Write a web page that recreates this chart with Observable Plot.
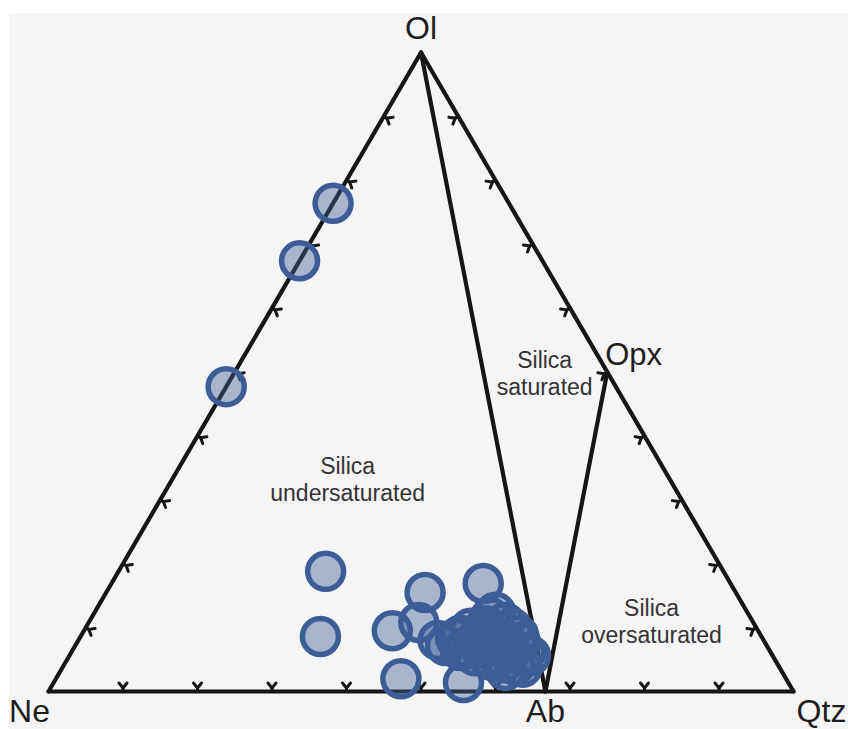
<!DOCTYPE html>
<html>
<head>
<meta charset="utf-8">
<script src="https://cdn.jsdelivr.net/npm/d3@7"></script>
<script src="https://cdn.jsdelivr.net/npm/@observablehq/plot@0.6"></script>
<style>
  html, body { margin: 0; padding: 0; background: #ffffff; }
  #wrap { position: relative; width: 848px; height: 729px; overflow: hidden; }
  #paper { position: absolute; left: 9px; top: 13px; right: 0; bottom: 0; background: #f6f5f6; }
  #chart { position: absolute; left: 0; top: 0; }
  #chart svg { overflow: visible; }
</style>
</head>
<body>
<div id="wrap"><div id="paper"></div><div id="chart"></div></div>
<script>
// Apices of the Ne–Ol–Qtz projection, as (Ne, Ol, Qtz) percentages
const apexNames = ["Ne", "Ol", "Qtz"];
const apexNe  = [100, 0, 0];
const apexOl  = [0, 100, 0];
const apexQtz = [0, 0, 100];

// Phases lying on the edges of the triangle
const phaseNames = ["Ab", "Opx"];
const phaseNe  = [33.3, 0];
const phaseOl  = [0, 50];
const phaseQtz = [66.7, 50];

// Sample compositions (Ne, Ol, Qtz %)
const sampleNe  = [23.6, 32.6, 52.3, 53.4, 59.2, 41.7, 33.2, 49.1, 44.9, 51.7, 43.6,
                   43.7, 41.2, 38.4, 34.9, 33.3, 32.5, 32.9, 35.3, 36.8, 38.6, 40.7, 36.0, 34.7, 36.7, 36.2,
                   43.1, 40.3, 38.7, 37.5, 35.3, 32.8, 32.8, 32.5, 34.5, 37.0, 38.2, 39.9, 33.8, 37.0, 34.9, 41.5];
const sampleOl  = [76.4, 67.4, 47.7, 18.8, 8.6, 15.5, 16.9, 9.5, 10.8, 2.0, 1.4,
                   8.0, 8.3, 9.9, 11.6, 10.8, 8.8, 6.1, 4.1, 5.6, 6.7, 6.7, 8.8, 7.2, 4.5, 10.3,
                   7.2, 8.8, 8.0, 7.2, 8.0, 9.9, 7.7, 5.6, 3.8, 3.3, 4.9, 5.6, 12.4, 9.5, 6.1, 6.4];
const sampleQtz = [0, 0, 0, 27.8, 32.2, 42.8, 49.9, 41.4, 44.3, 46.3, 55.0,
                   48.3, 50.5, 51.7, 53.5, 55.9, 58.7, 61.0, 60.6, 57.6, 54.7, 52.6, 55.2, 58.1, 58.8, 53.5,
                   49.7, 50.9, 53.3, 55.3, 56.7, 57.3, 59.5, 61.9, 61.7, 59.7, 56.9, 54.5, 53.8, 53.5, 59.0, 52.1];

// Field names
const fieldNames = ["Silica\nundersaturated", "Silica\nsaturated", "Silica\noversaturated"];
const fieldNe  = [43.2, 8.5, 13.5];
const fieldOl  = [33.3, 49.8, 11.1];
const fieldQtz = [23.5, 41.7, 75.4];

// Edge tick interval (fraction of each side)
const tickFractions = [0.1, 0.2, 0.3, 0.4, 0.5, 0.6, 0.7, 0.8, 0.9];

// ---- layout ----
const W = 848, H = 729;
const mL = 48, mR = 55, mT = 52, mB = 38;
const S3 = Math.sqrt(3) / 2;
const kx = (W - mL - mR) / 1;       // px per data unit, x
const ky = (H - mT - mB) / S3;      // px per data unit, y

// Ternary (Ne, Ol, Qtz) -> cartesian in a unit equilateral triangle
function tern(ne, ol, q) {
  const s = ne + ol + q;
  return { x: (q + ol / 2) / s, y: (ol / s) * S3 };
}

const apices = apexNames.map((n, i) => ({ name: n, ...tern(apexNe[i], apexOl[i], apexQtz[i]) }));
const phases = phaseNames.map((n, i) => ({ name: n, ...tern(phaseNe[i], phaseOl[i], phaseQtz[i]) }));
const samples = sampleNe.map((_, i) => tern(sampleNe[i], sampleOl[i], sampleQtz[i]));
const fields = fieldNames.map((n, i) => ({ name: n, ...tern(fieldNe[i], fieldOl[i], fieldQtz[i]) }));

const P = Object.fromEntries([...apices, ...phases].map(d => [d.name, d]));

// Straight tie lines of the diagram
const segments = [
  [P.Ne, P.Ol], [P.Ol, P.Qtz], [P.Qtz, P.Ne],
  [P.Ol, P.Ab], [P.Ab, P.Opx]
].map(([a, b]) => ({ x1: a.x, y1: a.y, x2: b.x, y2: b.y }));

// Small "Y" ticks pointing into the triangle, every 10 % along each side
const edges = [[P.Ne, P.Qtz], [P.Ne, P.Ol], [P.Ol, P.Qtz]];
const centroid = { x: 0.5, y: S3 / 3 };
const tickSegs = [];
for (const [a, b] of edges) {
  // work in pixel space so the glyph keeps its shape
  const tx = (b.x - a.x) * kx, ty = -(b.y - a.y) * ky;
  const tl = Math.hypot(tx, ty);
  const ux = tx / tl, uy = ty / tl;
  let nx = -uy, ny = ux;
  const mx = ((a.x + b.x) / 2 - centroid.x) * kx, my = -((a.y + b.y) / 2 - centroid.y) * ky;
  if (nx * mx + ny * my > 0) { nx = -nx; ny = -ny; }
  const off = (p, along, inward) => ({
    x: p.x + (ux * along + nx * inward) / kx,
    y: p.y - (uy * along + ny * inward) / ky
  });
  for (const t of tickFractions) {
    const p = { x: a.x + t * (b.x - a.x), y: a.y + t * (b.y - a.y) };
    const s0 = off(p, 0, 0), s1 = off(p, 0, 3.5);
    const l = off(p, -4, 8.5), r = off(p, 4, 8.5);
    tickSegs.push({ x1: s0.x, y1: s0.y, x2: s1.x, y2: s1.y });
    tickSegs.push({ x1: s1.x, y1: s1.y, x2: l.x, y2: l.y });
    tickSegs.push({ x1: s1.x, y1: s1.y, x2: r.x, y2: r.y });
  }
}

const ink = "#161616";
const dotBlue = "#3c5d95";
const font = "Liberation Sans, Arial, sans-serif";

const labelOffsets = {
  Ne:  { dx: -19, dy: 20, anchor: "middle", size: 32 },
  Ol:  { dx: 0,   dy: -24, anchor: "middle", size: 32 },
  Qtz: { dx: 28,  dy: 20, anchor: "middle", size: 32 },
  Ab:  { dx: 0,   dy: 20, anchor: "middle", size: 32 },
  Opx: { dx: -2,  dy: -17, anchor: "start", size: 31 }
};
const labelMarks = [...apices, ...phases].map(d => {
  const o = labelOffsets[d.name];
  return Plot.text([d], {
    x: "x", y: "y", text: "name", dx: o.dx, dy: o.dy, textAnchor: o.anchor,
    fontSize: o.size, fill: "#1e1e1e", fontFamily: font
  });
});

const chart = Plot.plot({
  width: W, height: H,
  marginLeft: mL, marginRight: mR, marginTop: mT, marginBottom: mB,
  x: { domain: [0, 1], axis: null },
  y: { domain: [0, S3], axis: null },
  style: { background: "transparent", overflow: "visible" },
  marks: [
    Plot.link(segments, { x1: "x1", y1: "y1", x2: "x2", y2: "y2", stroke: ink, strokeWidth: 4.2, strokeLinecap: "round" }),
    Plot.link(tickSegs, { x1: "x1", y1: "y1", x2: "x2", y2: "y2", stroke: ink, strokeWidth: 3, strokeLinecap: "round" }),
    Plot.dot(samples, { x: "x", y: "y", r: 18, fill: dotBlue, fillOpacity: 0.42, stroke: dotBlue, strokeWidth: 5.5 }),
    Plot.text(fields, {
      x: "x", y: "y", text: "name", fontSize: 23, lineHeight: 1.17, fill: "#333333", fontFamily: font
    }),
    ...labelMarks
  ]
});

document.getElementById("chart").appendChild(chart);
</script>
</body>
</html>
